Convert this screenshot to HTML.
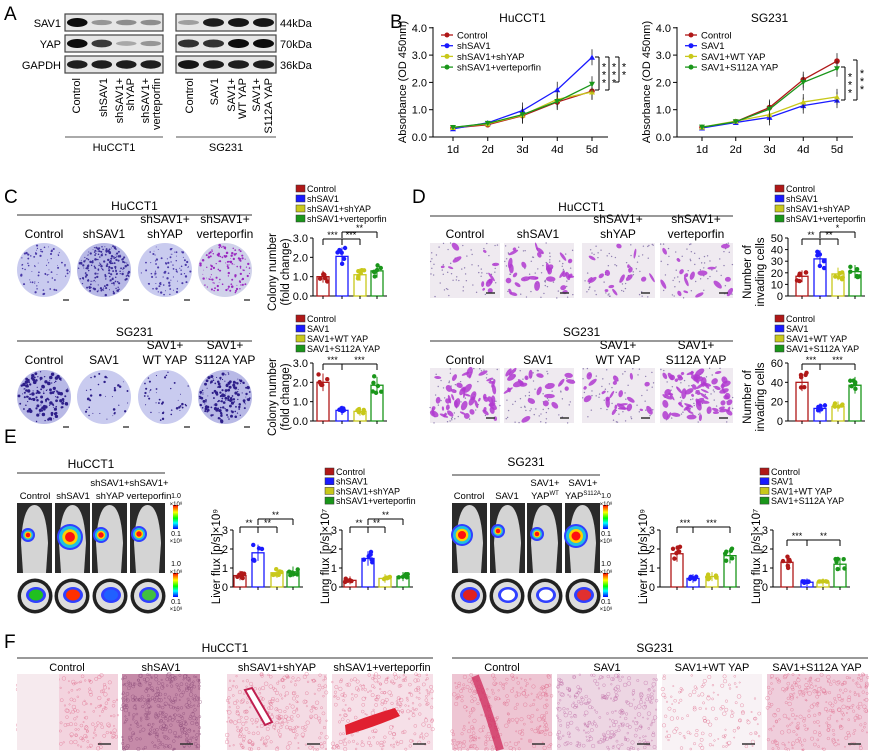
<!DOCTYPE html>
<html><head><meta charset="utf-8">
<style>
html,body{margin:0;padding:0;background:#fff;}
svg{display:block;font-family:"Liberation Sans",Arial,sans-serif;}
</style></head>
<body>
<svg id="s" width="869" height="751" viewBox="0 0 869 751" xmlns="http://www.w3.org/2000/svg">
<rect width="869" height="751" fill="#fff"/>
</svg>
<script>
const S=document.getElementById('s');let out='';
let seed=7;function rnd(){seed=(seed*16807)%2147483647;return seed/2147483647;}
function T(x,y,t,o={}){out+=`<text x="${x}" y="${y}" font-size="${o.fs||11}" text-anchor="${o.a||'start'}" fill="${o.c||'#000'}"${o.r?` transform="rotate(${o.r} ${x} ${y})"`:''}>${t}</text>`;}
function L(x1,y1,x2,y2,c='#000',w=1){out+=`<line x1="${x1}" y1="${y1}" x2="${x2}" y2="${y2}" stroke="${c}" stroke-width="${w}"/>`;}
function R(x,y,w,h,f,s='none',sw=1){out+=`<rect x="${x}" y="${y}" width="${w}" height="${h}" fill="${f}" stroke="${s}" stroke-width="${sw}"/>`;}
const COL=['#b01818','#1a1aff','#c8c81a','#1a961a'];
T(4,20,'A',{fs:19});T(390,28,'B',{fs:19});T(4,203,'C',{fs:19});T(412,203,'D',{fs:19});T(4,443,'E',{fs:19});T(4,648,'F',{fs:19});
function blot(x,w,y,ints){R(x,y,w,17,'#e6e6e6','#444',1.2);const lw=w/4;ints.forEach((v,i)=>{if(v>0){out+=`<ellipse cx="${x+lw*i+lw/2}" cy="${y+8.5}" rx="${lw*0.42}" ry="${2+v*2.5}" fill="rgba(0,0,0,${0.15+v*0.8})"/>`;}});}
blot(65,98,14,[1,0.25,0.3,0.3]);blot(65,98,35,[1,0.75,0.15,0.25]);blot(65,98,56,[0.9,0.9,0.9,0.9]);
blot(176,100,14,[0.2,0.9,0.95,0.95]);blot(176,100,35,[0.8,0.8,1,1]);blot(176,100,56,[0.95,0.9,0.9,0.9]);
T(61,27,'SAV1',{a:'end'});T(61,48,'YAP',{a:'end'});T(61,69,'GAPDH',{a:'end'});
T(280,27,'44kDa');T(280,48,'70kDa');T(280,69,'36kDa');
[[80,'Control'],[107,'shSAV1'],[123,'shSAV1+'],[134,'shYAP'],[149,'shSAV1+'],[160,'verteporfin'],[193,'Control'],[218,'SAV1'],[235,'SAV1+'],[246,'WT YAP'],[260,'SAV1+'],[272,'S112A YAP']].forEach(([x,t])=>T(x,78,t,{a:'end',r:-90,fs:11}));
L(65,137,163,137,'#555');L(176,137,276,137,'#555');T(114,151,'HuCCT1',{a:'middle'});T(226,151,'SG231',{a:'middle'});
function stars(x,ymid,n){const y0=ymid-(n*8)/2;for(let i=0;i<n;i++)T(x,y0+i*8+9,'*',{fs:11,a:'middle'});}
function line(ax,x1,dx,title,legs,data,brk){const y0=137,pu=27.3;L(ax,27,ax,y0);L(ax,y0,x1+dx*4+16,y0);
for(let i=0;i<=4;i++){const y=y0-i*pu;L(ax-4,y,ax,y);T(ax-6,y+4,i+'.0',{a:'end',fs:11});}
for(let i=0;i<5;i++){const x=x1+dx*i;L(x,y0,x,y0+4);T(x,y0+16,(i+1)+'d',{a:'middle',fs:11});}
T(ax-27,82,'Absorbance (OD 450nm)',{a:'middle',r:-90,fs:11});T(x1+dx*2,22,title,{a:'middle',fs:12});
data.forEach((d,k)=>{let p=d.map((v,i)=>`${x1+dx*i},${y0-v*pu}`).join(' ');out+=`<polyline points="${p}" fill="none" stroke="${COL[k]}" stroke-width="1.3"/>`;
d.forEach((v,i)=>{const x=x1+dx*i,y=y0-v*pu;if(i>1)L(x,y-8,x,y+8,'#222',0.8);if(k==0)out+=`<circle cx="${x}" cy="${y}" r="2.8" fill="${COL[k]}"/>`;else if(k==3)out+=`<path d="M${x-3} ${y-2.5}L${x+3} ${y-2.5}L${x} ${y+2.8}Z" fill="${COL[k]}"/>`;else out+=`<path d="M${x-3} ${y+2.5}L${x+3} ${y+2.5}L${x} ${y-2.8}Z" fill="${COL[k]}"/>`;});});
legs.forEach((t,k)=>{const y=35+k*10.7;L(ax+8,y,ax+20,y,COL[k],1.3);out+=`<circle cx="${ax+14}" cy="${y}" r="2.5" fill="${COL[k]}"/>`;T(ax+24,y+3.5,t,{fs:9.5});});
brk.forEach(([x,ya,yb,n])=>{L(x-4,ya,x,ya);L(x,ya,x,yb);L(x-4,yb,x,yb);stars(x+5,(ya+yb)/2,n);});}
line(433,453,34.75,'HuCCT1',['Control','shSAV1','shSAV1+shYAP','shSAV1+verteporfin'],[[0.33,0.45,0.78,1.28,1.68],[0.3,0.52,0.97,1.73,2.92],[0.35,0.48,0.8,1.38,1.65],[0.35,0.5,0.82,1.3,1.93]],[[599,57,90,3],[609,57,90,3],[619,57,82,2]]);
line(677,702,33.75,'SG231',['Control','SAV1','SAV1+WT YAP','SAV1+S112A YAP'],[[0.35,0.56,1.08,2.1,2.78],[0.33,0.53,0.72,1.15,1.35],[0.36,0.58,0.82,1.28,1.47],[0.36,0.56,1.02,2.0,2.5]],[[845,67,100,3],[857,60,100,3]]);
function bars(ax,y0,ytop,maxv,ticks,cs,vals,ylab,sig){const pu=(y0-ytop)/maxv;L(ax,ytop,ax,y0);L(ax,y0,cs[3]+10,y0);
ticks.forEach(([v,t])=>{const y=y0-v*pu;L(ax-3,y,ax,y);T(ax-5,y+4,t,{a:'end',fs:11});});
cs.forEach((c,i)=>{const h=vals[i]*pu;R(c-6,y0-h,12,h,'#fff',COL[i],1.3);L(c,y0-h-h*0.15-3,c,y0-h+h*0.15+3,COL[i],1);L(c,y0,c,y0+3);
for(let j=0;j<6;j++){const v=vals[i]*(0.75+rnd()*0.5);out+=`<circle cx="${c-5+rnd()*10}" cy="${y0-v*pu}" r="2.2" fill="${COL[i]}"/>`;}});
if(ylab.length==2)ylab.forEach((t,k)=>T(ax-37+k*13,(y0+ytop)/2+5,t,{a:'middle',r:-90,fs:11.5}));
else T(ax-13,(y0+ytop)/2-2,ylab[0],{a:'middle',r:-90,fs:11.5});
sig.forEach(([a,b,y,s])=>{L(cs[a],y+6,cs[a],y);L(cs[a],y,cs[b],y);L(cs[b],y,cs[b],y+6);T((cs[a]+cs[b])/2,y-1,s,{a:'middle',fs:9});});}
function legend(x,y,labs,dy=10){labs.forEach((t,k)=>{R(x,y+k*dy-7,9,7,COL[k],'#333',0.5);T(x+11,y+k*dy,t,{fs:9});});}
const HL=['Control','shSAV1','shSAV1+shYAP','shSAV1+verteporfin'],SL=['Control','SAV1','SAV1+WT YAP','SAV1+S112A YAP'];
legend(296,192,HL);legend(296,322,SL);legend(775,192,HL);legend(775,322,SL);legend(325,475,HL,9.7);legend(760,475,SL,9.7);
const t3=[[0,'0.0'],[1,'1.0'],[2,'2.0'],[3,'3.0']];
bars(313,296,238,3,t3,[323,342,360,377],[1.0,2.05,1.1,1.3],['Colony number','(fold change)'],[[0,1,239,'***'],[1,2,239,'***'],[1,3,232,'**']]);
bars(313,421,363,3,t3,[323,342,360,377],[2.0,0.55,0.5,1.85],['Colony number','(fold change)'],[[0,1,364,'***'],[1,3,364,'***']]);
bars(788,296,238,50,[[0,'0'],[10,'10'],[20,'20'],[30,'30'],[40,'40'],[50,'50']],[802,820,838,855],[17,32,19,21],['Number of','invading cells'],[[0,1,239,'**'],[1,2,239,'**'],[1,3,232,'*']]);
bars(788,421,363,60,[[0,'0'],[20,'20'],[40,'40'],[60,'60']],[802,820,838,855],[40,13,15,37],['Number of','invading cells'],[[0,1,364,'***'],[1,3,364,'***']]);
const t3b=[[0,'0'],[1,'1'],[2,'2'],[3,'3']];
bars(233,587,530,3,t3b,[240,258,277,293],[0.6,1.8,0.75,0.8],['Liver flux [p/s]×10⁹'],[[0,1,527,'**'],[1,2,527,'**'],[1,3,519,'**']]);
bars(342,587,530,3,t3b,[350,368,385,403],[0.35,1.5,0.45,0.55],['Lung flux [p/s]×10⁷'],[[0,1,527,'**'],[1,2,527,'**'],[1,3,519,'**']]);
bars(660,587,530,3,t3b,[677,693,712,730],[1.75,0.45,0.55,1.65],['Liver flux [p/s]×10⁹'],[[0,1,527,'***'],[1,3,527,'***']]);
bars(773,587,530,3,t3b,[787,807,823,840],[1.3,0.25,0.25,1.2],['Lung flux [p/s]×10⁷'],[[0,1,540,'***'],[1,3,540,'**']]);
function hdr(x1,x2,yl,title,cols,yc){T((x1+x2)/2,yl-5,title,{a:'middle',fs:12});L(x1,yl,x2,yl,'#333',1);cols.forEach(([x,t1,t2])=>{if(t2){T(x,yc-15,t1,{a:'middle',fs:12});T(x,yc,t2,{a:'middle',fs:12});}else T(x,yc,t1,{a:'middle',fs:12});});}
hdr(17,252,215,'HuCCT1',[[44,'Control'],[104,'shSAV1'],[165,'shSAV1+','shYAP'],[225,'shSAV1+','verteporfin']],238);
hdr(17,252,341,'SG231',[[44,'Control'],[104,'SAV1'],[165,'SAV1+','WT YAP'],[225,'SAV1+','S112A YAP']],364);
hdr(430,733,216,'HuCCT1',[[465,'Control'],[538,'shSAV1'],[618,'shSAV1+','shYAP'],[696,'shSAV1+','verteporfin']],238);
hdr(430,733,341,'SG231',[[465,'Control'],[538,'SAV1'],[618,'SAV1+','WT YAP'],[696,'SAV1+','S112A YAP']],364);
function plate(cx,cy,r,dark,n,col,bg){out+=`<circle cx="${cx}" cy="${cy}" r="${r}" fill="${bg||'#c9cbef'}"/>`;for(let i=0;i<n;i++){const a=rnd()*6.28,d=Math.sqrt(rnd())*r*0.95;out+=`<circle cx="${cx+Math.cos(a)*d}" cy="${cy+Math.sin(a)*d}" r="${0.4+rnd()*dark}" fill="${col}"/>`;}L(cx+19,cy+30,cx+25,cy+30,'#444',1.5);}
plate(44,270,27,0.8,80,'#4a3aa8');plate(104,270,27,0.9,220,'#3d2f9a','#b8b9e6');plate(165,270,27,0.8,90,'#4a3aa8');plate(225,270,27,0.9,130,'#9a2ac0','#d0d2ea');
plate(44,397,27,1.4,140,'#2e1f8a','#b8b9e6');plate(104,397,27,1.0,35,'#2e1f8a');plate(165,397,27,0.9,45,'#2e1f8a');plate(225,397,27,1.2,170,'#2e1f8a','#b8b9e6');
function inv(x,y,w,h,n){R(x,y,w,h,'#efeaf0');for(let i=0;i<60;i++)out+=`<circle cx="${x+rnd()*w}" cy="${y+rnd()*h}" r="0.7" fill="#8f7fb0"/>`;for(let i=0;i<n;i++){const cx=x+3+rnd()*(w-6),cy=y+3+rnd()*(h-6);out+=`<ellipse cx="${cx}" cy="${cy}" rx="${1.5+rnd()*4}" ry="${1+rnd()*2}" transform="rotate(${rnd()*180} ${cx} ${cy})" fill="#b03ad0" opacity="0.85"/>`;}L(x+w-14,y+h-5,x+w-5,y+h-5,'#333',1.5);}
inv(430,243,70,55,12);inv(504,243,70,55,30);inv(582,243,73,55,16);inv(660,243,73,55,16);
inv(430,368,70,55,50);inv(504,368,70,55,22);inv(582,368,73,55,22);inv(660,368,73,55,65);
T(91,468,'HuCCT1',{a:'middle',fs:12});L(17,473,165,473,'#333');T(526,466,'SG231',{a:'middle',fs:12});L(452,475,600,475,'#333');
const ef=9.5;
[[35,'Control'],[73,'shSAV1'],[110,'shSAV1+','shYAP'],[149,'shSAV1+','verteporfin']].forEach(([x,a,b])=>{if(b){T(x,486,a,{a:'middle',fs:ef});T(x,499,b,{a:'middle',fs:ef});}else T(x,499,a,{a:'middle',fs:ef});});
[[469,'Control'],[507,'SAV1'],[545,'SAV1+','YAP<tspan font-size="6" dy="-4">WT</tspan>'],[583,'SAV1+','YAP<tspan font-size="6" dy="-4">S112A</tspan>']].forEach(([x,a,b])=>{if(b){T(x,486,a,{a:'middle',fs:ef});T(x,499,b,{a:'middle',fs:ef});}else T(x,499,a,{a:'middle',fs:ef});});
function mouse(x,y,tx,ty,r){R(x,y,35,70,'#2a2a2a');out+=`<path d="M${x+6} ${y+70}L${x+4} ${y+40}Q${x+6} ${y+2} ${x+17.5} ${y+2}Q${x+29} ${y+2} ${x+31} ${y+40}L${x+29} ${y+70}Z" fill="#d4d4d4"/>`;
out+=`<circle cx="${tx}" cy="${ty}" r="${r+2}" fill="#3040ff"/><circle cx="${tx}" cy="${ty}" r="${r}" fill="#20c0e0"/><circle cx="${tx}" cy="${ty}" r="${r*0.7}" fill="#ffd000"/><circle cx="${tx}" cy="${ty}" r="${r*0.45}" fill="#ff1010"/>`;}
function organ(cx,cy,col){out+=`<circle cx="${cx}" cy="${cy}" r="17.5" fill="#222"/><circle cx="${cx}" cy="${cy}" r="14" fill="#ddd"/><ellipse cx="${cx+1}" cy="${cy-1}" rx="10" ry="8" fill="#3040ff"/><ellipse cx="${cx+1}" cy="${cy-1}" rx="7" ry="5.5" fill="${col}"/>`;}
mouse(17,503,28,535,5);mouse(55,503,70,537,11);mouse(92,503,101,535,6);mouse(130,503,139,534,6);
organ(35,596,'#20c020');organ(72,596,'#ff3000');organ(110,596,'#2060ff');organ(148,596,'#40c040');
mouse(452,503,462,535,9);mouse(490,503,498,531,5);mouse(527,503,537,534,5);mouse(565,503,576,536,10);
organ(469,596,'#e02020');organ(507,596,'#fff');organ(545,596,'#fff');organ(583,596,'#e03030');
let gi=0;function cbar(x,y){gi++;out+=`<defs><linearGradient id="g${gi}" x1="0" y1="0" x2="0" y2="1"><stop offset="0" stop-color="#f00"/><stop offset="0.3" stop-color="#ff0"/><stop offset="0.55" stop-color="#0f0"/><stop offset="0.75" stop-color="#0ff"/><stop offset="1" stop-color="#00f"/></linearGradient></defs>`;R(x,y,5,24,`url(#g${gi})`);}
[[173,505],[173,573],[603,505],[603,573]].forEach(([x,y])=>{cbar(x,y);T(x+3,y-7,'1.0',{a:'middle',fs:7});T(x+3,y+1,'×10⁸',{a:'middle',fs:6});T(x+3,y+31,'0.1',{a:'middle',fs:7});T(x+3,y+38,'×10⁸',{a:'middle',fs:6});});
function histo(x,y,w,h,dens,bg,c){R(x,y,w,h,bg);for(let i=0;i<dens;i++){const cx=x+rnd()*w,cy=y+rnd()*h;out+=`<circle cx="${cx}" cy="${cy}" r="${0.6+rnd()*1.4}" fill="none" stroke="${c||'#e07090'}" stroke-width="0.5" opacity="0.7"/>`;}L(x+w-20,y+h-6,x+w-7,y+h-6,'#333',1.5);}
T(225,652,'HuCCT1',{a:'middle',fs:12});L(17,658,433,658,'#333');T(655,652,'SG231',{a:'middle',fs:12});L(452,658,868,658,'#333');
[[67,'Control'],[161,'shSAV1'],[277,'shSAV1+shYAP'],[382,'shSAV1+verteporfin'],[502,'Control'],[607,'SAV1'],[712,'SAV1+WT YAP'],[817,'SAV1+S112A YAP']].forEach(([x,t])=>T(x,671,t,{a:'middle',fs:11}));
histo(17,674,101,76,220,'#f3d3de');R(17,674,42,76,'#f6eaee');histo(122,674,78,76,350,'#c58aa8','#8a4a78');
histo(227,674,100,76,260,'#f4dbe4');histo(332,674,101,76,240,'#f6e0e8');
out+=`<path d="M245 690L265 725L272 722L252 688Z" fill="#fff" stroke="#c02050" stroke-width="2"/><path d="M345 725Q370 715 395 708L400 716Q372 728 346 735Z" fill="#e02030"/>`;
histo(452,674,100,76,260,'#eec5d3');out+=`<path d="M475 676Q485 700 500 750" stroke="#d03060" stroke-width="8" fill="none" opacity="0.8"/>`;
histo(557,674,100,76,280,'#edd6e3','#c070a8');histo(662,674,100,76,130,'#f8f2f5');histo(767,674,101,76,280,'#efcddb');
S.insertAdjacentHTML('beforeend',out);
</script>
</body></html>
